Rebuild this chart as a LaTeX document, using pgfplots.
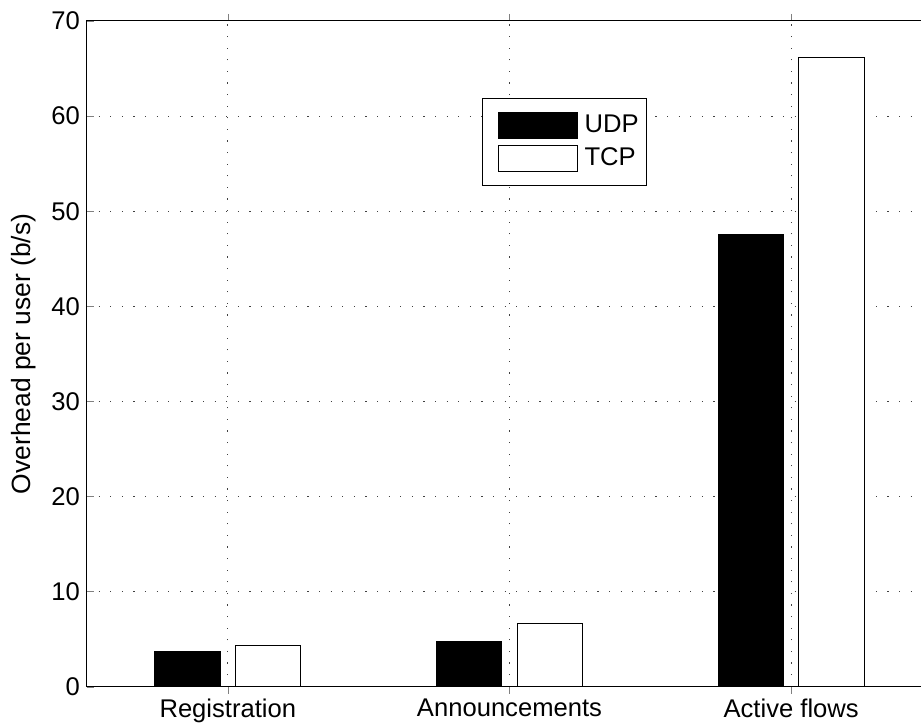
\documentclass[border=0pt]{standalone}
\usepackage{pgfplots}
\pgfplotsset{compat=1.18}
\usepackage{fontspec}
\setmainfont{Liberation Sans}
\begin{document}
\begin{tikzpicture}
\begin{axis}[
  scale only axis,
  width=422.5pt, height=332.9pt,
  xmin=0.5, xmax=3.5, ymin=0, ymax=70,
  xtick={1,2,3},
  xticklabels={Registration,Announcements,Active flows},
  ytick={0,10,20,30,40,50,60,70},
  /pgf/number format/assume math mode=true,
  tick label style={font=\fontsize{12.8}{14}\selectfont},
  xticklabel style={yshift=1pt},
  ylabel={Overhead per user (b/s)},
  every axis y label/.style={at={(rel axis cs:0,0.5)}, xshift=-31.5pt, rotate=90, anchor=center, font=\fontsize{13.2}{14}\selectfont},
  tick align=inside,
  major tick length=3.5pt,
  xtick pos=both, ytick pos=both,
  axis line style={line width=0.5pt},
  grid=major,
  major grid style={dash pattern=on 0.6pt off 5.2pt, line width=0.5pt, black!75},
  ybar, bar width=0.232,
  legend style={at={(0.4675,0.884)}, anchor=north west, draw=black, line width=0.5pt,
    font=\fontsize{12.8}{14}\selectfont, inner xsep=0.5pt, inner ysep=6.75pt,
    row sep=3pt, cells={anchor=west}, nodes={inner xsep=3.5pt, inner ysep=1pt}},
  legend image code/.code={\path (0pt,0pt); \draw[#1, line width=0.4pt] (7pt,-6.5pt) rectangle (46.5pt,6.5pt);},
]
\addplot[fill=black, draw=black, line width=0.4pt, bar shift=-0.143] coordinates {(1,3.68) (2,4.81) (3,47.57)};
\addplot[fill=white, draw=black, line width=0.6pt, bar shift=0.143] coordinates {(1,4.35) (2,6.63) (3,66.2)};
\legend{UDP,TCP}
\coordinate (SW) at (rel axis cs:0,0);
\coordinate (NW) at (rel axis cs:0,1);
\end{axis}
\pgfresetboundingbox
\path[use as bounding box] ([xshift=-43.5pt,yshift=-18.2pt]SW) rectangle ([xshift=417pt,yshift=10.5pt]NW);
\end{tikzpicture}
\end{document}
